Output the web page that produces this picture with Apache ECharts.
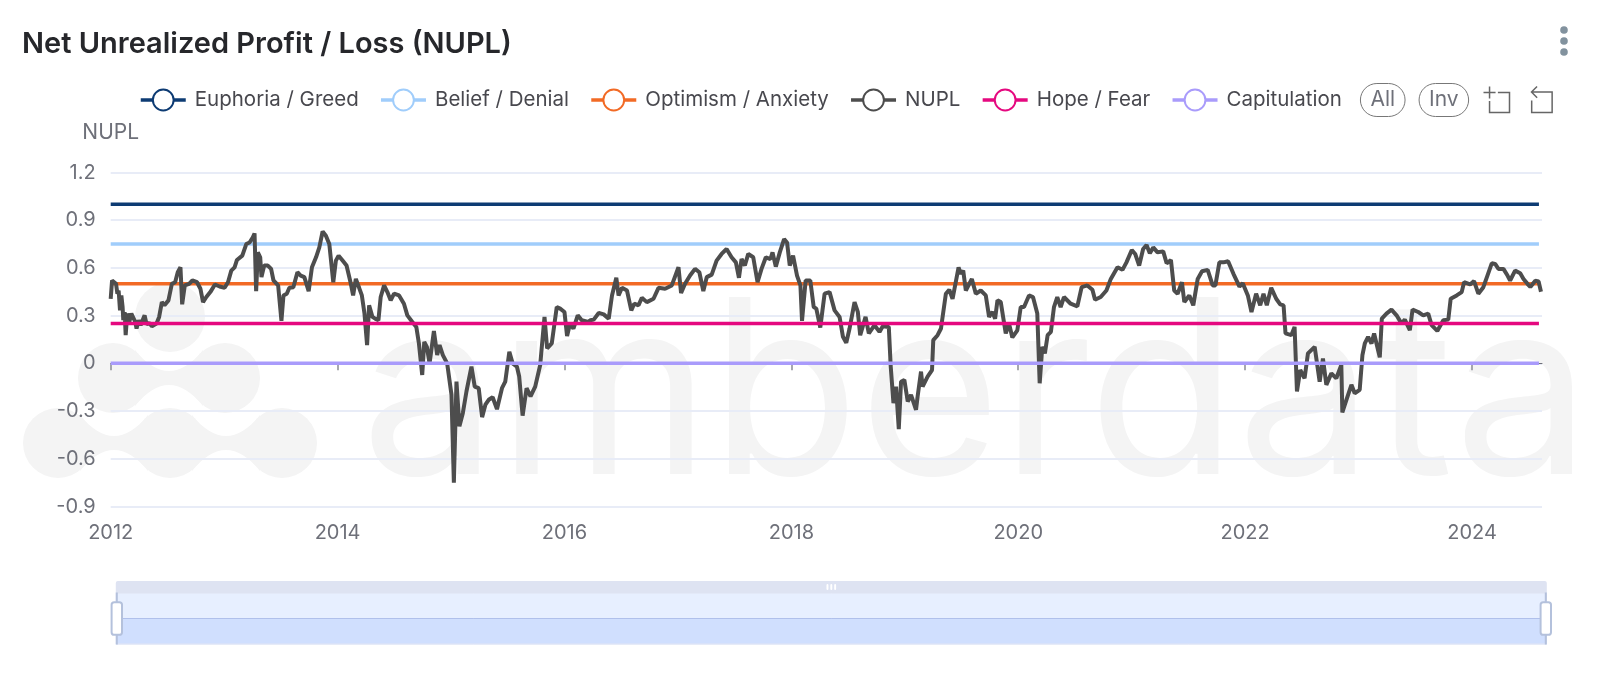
<!DOCTYPE html>
<html>
<head>
<meta charset="utf-8">
<title>Net Unrealized Profit / Loss (NUPL)</title>
<script src="https://cdn.jsdelivr.net/npm/echarts@6/dist/echarts.min.js"></script>
<style>
  html, body { margin: 0; padding: 0; background: #fff; }
  #chart { width: 1600px; height: 693px; }
</style>
</head>
<body>
<div id="chart"></div>
<script>
var LEVEL_YEARS = [2012, 2024.59];
var EUPHORIA = [1, 1];
var BELIEF = [0.75, 0.75];
var OPTIMISM = [0.5, 0.5];
var HOPE = [0.25, 0.25];
var CAPITULATION = [0, 0];
var YEAR_TICKS = [2012, 2014, 2016, 2018, 2020, 2022, 2024];

// decimal years
var NUPL_YEARS = [
  2012.000, 2012.012, 2012.029, 2012.047, 2012.059, 2012.070, 2012.082, 2012.094, 2012.105, 2012.111, 2012.123, 2012.132,
  2012.146, 2012.164, 2012.182, 2012.199, 2012.217, 2012.228, 2012.246, 2012.264, 2012.281, 2012.299, 2012.316, 2012.340,
  2012.363, 2012.404, 2012.427, 2012.451, 2012.474, 2012.509, 2012.539, 2012.568, 2012.591, 2012.615, 2012.630, 2012.653,
  2012.691, 2012.720, 2012.761, 2012.791, 2012.814, 2012.843, 2012.878, 2012.919, 2012.960, 2013.004, 2013.034, 2013.063,
  2013.092, 2013.113, 2013.160, 2013.195, 2013.224, 2013.253, 2013.268, 2013.282, 2013.297, 2013.318, 2013.329, 2013.353,
  2013.385, 2013.414, 2013.435, 2013.476, 2013.505, 2013.523, 2013.552, 2013.575, 2013.610, 2013.646, 2013.675, 2013.707,
  2013.745, 2013.774, 2013.810, 2013.839, 2013.868, 2013.897, 2013.927, 2013.962, 2013.985, 2014.009, 2014.044, 2014.079,
  2014.117, 2014.137, 2014.161, 2014.190, 2014.214, 2014.237, 2014.260, 2014.278, 2014.307, 2014.331, 2014.360, 2014.380,
  2014.410, 2014.439, 2014.468, 2014.498, 2014.542, 2014.585, 2014.615, 2014.659, 2014.694, 2014.717, 2014.746, 2014.764,
  2014.787, 2014.811, 2014.849, 2014.878, 2014.899, 2014.928, 2014.966, 2015.004, 2015.025, 2015.048, 2015.074, 2015.104,
  2015.136, 2015.180, 2015.209, 2015.244, 2015.274, 2015.303, 2015.332, 2015.367, 2015.405, 2015.449, 2015.478, 2015.514,
  2015.543, 2015.581, 2015.601, 2015.631, 2015.666, 2015.701, 2015.742, 2015.786, 2015.824, 2015.847, 2015.888, 2015.932,
  2015.962, 2016.000, 2016.023, 2016.049, 2016.079, 2016.117, 2016.152, 2016.210,
  2016.228, 2016.258, 2016.302, 2016.346, 2016.390, 2016.419, 2016.457, 2016.477, 2016.507, 2016.551, 2016.589, 2016.615,
  2016.653, 2016.682, 2016.726, 2016.785, 2016.829, 2016.887, 2016.946, 2017.005, 2017.028, 2017.063, 2017.107, 2017.151,
  2017.189, 2017.224, 2017.254, 2017.298, 2017.341, 2017.385, 2017.429, 2017.473, 2017.511, 2017.538, 2017.561, 2017.590,
  2017.620, 2017.664, 2017.702, 2017.737, 2017.775, 2017.816, 2017.834, 2017.863, 2017.898, 2017.936, 2017.962, 2017.986,
  2018.015, 2018.050, 2018.080, 2018.094, 2018.126, 2018.167, 2018.197, 2018.220, 2018.255, 2018.293, 2018.337, 2018.381,
  2018.425, 2018.455, 2018.484, 2018.513, 2018.557, 2018.586, 2018.607, 2018.654, 2018.683, 2018.733, 2018.777, 2018.806,
  2018.859, 2018.876, 2018.900, 2018.923, 2018.947, 2018.967, 2018.996, 2019.026, 2019.055, 2019.099, 2019.113, 2019.143,
  2019.157, 2019.201, 2019.240, 2019.251, 2019.289, 2019.319, 2019.362, 2019.392, 2019.421, 2019.474, 2019.494, 2019.515,
  2019.538, 2019.591, 2019.626, 2019.670, 2019.714, 2019.743, 2019.773, 2019.796, 2019.817, 2019.846, 2019.890, 2019.919,
  2019.948, 2019.992, 2020.022, 2020.051, 2020.095, 2020.130, 2020.168, 2020.189,
  2020.212, 2020.235, 2020.259, 2020.288, 2020.315, 2020.344, 2020.374, 2020.403, 2020.462, 2020.521, 2020.559, 2020.609,
  2020.654, 2020.677, 2020.727, 2020.777, 2020.816, 2020.875, 2020.919, 2020.954, 2021.001, 2021.031, 2021.066, 2021.101,
  2021.131, 2021.160, 2021.190, 2021.228, 2021.278, 2021.308, 2021.346, 2021.375, 2021.405, 2021.443, 2021.464, 2021.508,
  2021.543, 2021.582, 2021.620, 2021.670, 2021.714, 2021.738, 2021.773, 2021.809, 2021.850, 2021.897, 2021.950, 2021.979,
  2022.024, 2022.056, 2022.097, 2022.133, 2022.162, 2022.191, 2022.230, 2022.274, 2022.309, 2022.339, 2022.356, 2022.407,
  2022.436, 2022.457, 2022.486, 2022.524, 2022.554, 2022.613, 2022.657, 2022.686, 2022.716, 2022.760, 2022.804, 2022.848,
  2022.857, 2022.893, 2022.937, 2022.966, 2023.010, 2023.034, 2023.055, 2023.084, 2023.114, 2023.137, 2023.187, 2023.205,
  2023.246, 2023.290, 2023.335, 2023.379, 2023.408, 2023.452, 2023.476, 2023.526, 2023.570, 2023.614, 2023.644, 2023.694,
  2023.747, 2023.791, 2023.812, 2023.865, 2023.909, 2023.930, 2023.983, 2024.018, 2024.056, 2024.100, 2024.136, 2024.174,
  2024.204, 2024.233, 2024.277, 2024.313, 2024.336, 2024.380, 2024.425, 2024.454, 2024.489, 2024.514, 2024.558, 2024.587,
  2024.608
];
var NUPL_VALUES = [
  0.406, 0.521, 0.531, 0.500, 0.438, 0.458, 0.333, 0.427, 0.354, 0.271, 0.323, 0.177,
  0.313, 0.260, 0.313, 0.313, 0.260, 0.219, 0.271, 0.240, 0.271, 0.302, 0.246, 0.254,
  0.233, 0.250, 0.292, 0.385, 0.365, 0.396, 0.500, 0.510, 0.573, 0.604, 0.371, 0.490,
  0.500, 0.521, 0.510, 0.469, 0.385, 0.417, 0.448, 0.496, 0.483, 0.475, 0.510, 0.583,
  0.604, 0.650, 0.677, 0.750, 0.760, 0.792, 0.817, 0.454, 0.698, 0.667, 0.542, 0.615,
  0.615, 0.594, 0.521, 0.490, 0.267, 0.427, 0.438, 0.475, 0.479, 0.573, 0.552, 0.542,
  0.454, 0.604, 0.667, 0.729, 0.829, 0.802, 0.750, 0.510, 0.646, 0.677, 0.646, 0.615,
  0.500, 0.427, 0.531, 0.475, 0.427, 0.313, 0.115, 0.365, 0.292, 0.281, 0.271, 0.417,
  0.490, 0.448, 0.396, 0.438, 0.427, 0.375, 0.302, 0.260, 0.229, 0.125, -0.073, 0.135,
  0.104, 0.000, 0.204, 0.052, 0.115, 0.052, 0.000, -0.198, -0.750, -0.115, -0.396, -0.313,
  -0.177, -0.021, -0.146, -0.156, -0.338, -0.260, -0.229, -0.213, -0.288, -0.156, -0.115, 0.073,
  0.000, -0.021, -0.083, -0.329, -0.156, -0.208, -0.146, -0.010, 0.292, 0.094, 0.125, 0.354,
  0.344, 0.323, 0.171, 0.250, 0.219, 0.302, 0.271, 0.260,
  0.271, 0.275, 0.317, 0.308, 0.281, 0.427, 0.538, 0.427, 0.475, 0.458, 0.333, 0.375,
  0.365, 0.413, 0.385, 0.406, 0.475, 0.469, 0.490, 0.604, 0.442, 0.500, 0.552, 0.594,
  0.573, 0.454, 0.542, 0.558, 0.646, 0.688, 0.719, 0.667, 0.635, 0.538, 0.656, 0.615,
  0.688, 0.667, 0.510, 0.594, 0.667, 0.656, 0.698, 0.608, 0.698, 0.781, 0.760, 0.615,
  0.677, 0.552, 0.490, 0.267, 0.521, 0.521, 0.354, 0.344, 0.225, 0.438, 0.448, 0.333,
  0.292, 0.167, 0.129, 0.219, 0.385, 0.323, 0.177, 0.292, 0.188, 0.240, 0.198, 0.233,
  0.229, -0.021, -0.250, -0.146, -0.413, -0.115, -0.104, -0.240, -0.198, -0.292, -0.208, -0.052,
  -0.146, -0.083, -0.042, 0.146, 0.177, 0.219, 0.438, 0.463, 0.406, 0.604, 0.563, 0.583,
  0.458, 0.531, 0.438, 0.458, 0.427, 0.292, 0.323, 0.281, 0.396, 0.385, 0.188, 0.250,
  0.163, 0.208, 0.354, 0.354, 0.427, 0.417, 0.313, -0.125,
  0.104, 0.063, 0.177, 0.198, 0.354, 0.417, 0.354, 0.417, 0.375, 0.358, 0.479, 0.490,
  0.463, 0.400, 0.417, 0.458, 0.531, 0.604, 0.588, 0.635, 0.713, 0.688, 0.615, 0.719,
  0.744, 0.692, 0.729, 0.698, 0.704, 0.629, 0.650, 0.458, 0.438, 0.510, 0.385, 0.427,
  0.365, 0.531, 0.579, 0.588, 0.490, 0.490, 0.635, 0.635, 0.642, 0.563, 0.483, 0.504,
  0.427, 0.323, 0.438, 0.365, 0.438, 0.365, 0.475, 0.406, 0.371, 0.365, 0.188, 0.177,
  0.229, -0.177, -0.042, -0.094, 0.063, 0.104, -0.115, 0.031, -0.135, -0.063, -0.094, -0.010,
  -0.308, -0.229, -0.135, -0.188, -0.167, 0.052, 0.125, 0.167, 0.125, 0.188, 0.038, 0.281,
  0.313, 0.338, 0.302, 0.250, 0.275, 0.208, 0.338, 0.323, 0.302, 0.313, 0.240, 0.204,
  0.271, 0.275, 0.406, 0.427, 0.448, 0.510, 0.496, 0.517, 0.438, 0.479, 0.552, 0.629,
  0.625, 0.594, 0.594, 0.552, 0.521, 0.583, 0.567, 0.531, 0.500, 0.480, 0.520, 0.515,
  0.450
];

var FONT = 'Inter, "Noto Sans", sans-serif';
var WATERMARK = '#f4f4f4';

function pairs(xs, ys) {
  return xs.map(function (x, i) { return [x, ys[i]]; });
}

function levelSeries(name, values, color) {
  return {
    name: name, type: 'line', data: pairs(LEVEL_YEARS, values),
    showSymbol: false, silent: true,
    lineStyle: { color: color, width: 3.5 }, itemStyle: { color: color }
  };
}

// concave neck between two logo blobs
function bridge(cx, cy) {
  var pts = [], i, t, hw = 34, dy = 28, bow = 42;
  for (i = 0; i <= 16; i++) {
    t = i / 16;
    pts.push([cx - hw + 2 * hw * t, cy - dy + 2 * t * (1 - t) * bow]);
  }
  for (i = 16; i >= 0; i--) {
    t = i / 16;
    pts.push([cx - hw + 2 * hw * t, cy + dy - 2 * t * (1 - t) * bow]);
  }
  return pts;
}

function watermark() {
  var els = [];
  [[170, 317], [113, 378], [225, 378], [58, 443], [170, 443], [282, 443]].forEach(function (c) {
    els.push({ type: 'circle', silent: true, z: -1, shape: { cx: c[0], cy: c[1], r: 35 }, style: { fill: WATERMARK } });
  });
  [[169, 378], [114, 443], [226, 443]].forEach(function (c) {
    els.push({ type: 'polygon', silent: true, z: -1, shape: { points: bridge(c[0], c[1]) }, style: { fill: WATERMARK } });
  });
  els.push({
    type: 'text', silent: true, z: -1, x: 361, y: 522,
    style: { text: 'amberdata', font: '243px Inter, sans-serif', fill: WATERMARK, verticalAlign: 'bottom' }
  });
  [30, 41, 52].forEach(function (y) {
    els.push({ type: 'circle', silent: true, shape: { cx: 1564, cy: y, r: 3.8 }, style: { fill: '#82929e' } });
  });
  return els;
}

var chart = echarts.init(document.getElementById('chart'), null, { renderer: 'canvas' });
chart.setOption({
  animation: false,
  textStyle: { fontFamily: FONT },
  title: {
    text: 'Net Unrealized Profit / Loss (NUPL)', left: 17, top: 25,
    textStyle: { fontFamily: FONT, fontSize: 29, fontWeight: 600, color: '#26272b' }
  },
  legend: {
    left: 134, top: 78, itemWidth: 45, itemHeight: 26, itemGap: 20.5,
    lineStyle: { width: 3.5 }, itemStyle: { borderWidth: 3.5 },
    textStyle: { fontFamily: FONT, fontSize: 20.5, color: '#48484e', padding: [0, 0, 0, 4] },
    selector: [{ type: 'all', title: 'All' }, { type: 'inverse', title: 'Inv' }],
    selectorLabel: { fontFamily: FONT, fontSize: 21, color: '#6e7079', borderColor: '#777', borderRadius: 17, padding: [6, 10] },
    selectorItemGap: 13, selectorButtonGap: 18
  },
  toolbox: {
    left: 1466, top: 69, itemSize: 26, itemGap: 17, showTitle: false,
    iconStyle: { borderColor: '#666', borderWidth: 1.5 },
    feature: { dataZoom: { yAxisIndex: 'none' } }
  },
  grid: { left: 110.7, right: 58, top: 172.5, bottom: 186.5 },
  xAxis: {
    type: 'value', min: 2012, max: 2024.617, interval: 2,
    axisLine: { onZero: true, lineStyle: { color: '#6e7079' } },
    axisTick: { customValues: YEAR_TICKS, length: 7, lineStyle: { color: '#8a8c94', width: 1.5 } },
    axisLabel: {
      customValues: YEAR_TICKS, margin: 16, fontSize: 20, color: '#6e7079',
      formatter: function (v) { return String(v); }
    },
    splitLine: { show: false }
  },
  yAxis: {
    type: 'value', name: 'NUPL', min: -0.9, max: 1.2, interval: 0.3,
    nameGap: 29, nameTextStyle: { fontFamily: FONT, fontSize: 21, color: '#6e7079', align: 'center' },
    axisLine: { show: false }, axisTick: { show: false },
    axisLabel: { fontSize: 20, color: '#6e7079', margin: 15 },
    splitLine: { lineStyle: { color: '#e8ecf7', width: 2 } }
  },
  dataZoom: [{
    type: 'slider', xAxisIndex: 0, filterMode: 'none', start: 0, end: 100,
    left: 111, right: 58, top: 581, height: 52,
    showDetail: false, showDataShadow: true,
    moveHandleSize: 12,
    moveHandleStyle: { color: '#dee3f2', opacity: 1 },
    handleSize: '100%',
    handleStyle: { color: '#fff', borderColor: '#b4c1dc', borderWidth: 2 },
    selectedDataBackground: { areaStyle: { color: '#8fb0f7', opacity: 0.26 } }
  }],
  series: [
    levelSeries('Euphoria / Greed', EUPHORIA, '#0d3b73'),
    levelSeries('Belief / Denial', BELIEF, '#a0cdfb'),
    levelSeries('Optimism / Anxiety', OPTIMISM, '#f26a25'),
    {
      name: 'NUPL', type: 'line', data: pairs(NUPL_YEARS, NUPL_VALUES),
      showSymbol: false, silent: true,
      lineStyle: { color: '#4d4d4d', width: 4 }, itemStyle: { color: '#4d4d4d' }
    },
    levelSeries('Hope / Fear', HOPE, '#e5087f'),
    levelSeries('Capitulation', CAPITULATION, '#a99bfb')
  ],
  graphic: { elements: watermark() }
});
</script>
</body>
</html>
